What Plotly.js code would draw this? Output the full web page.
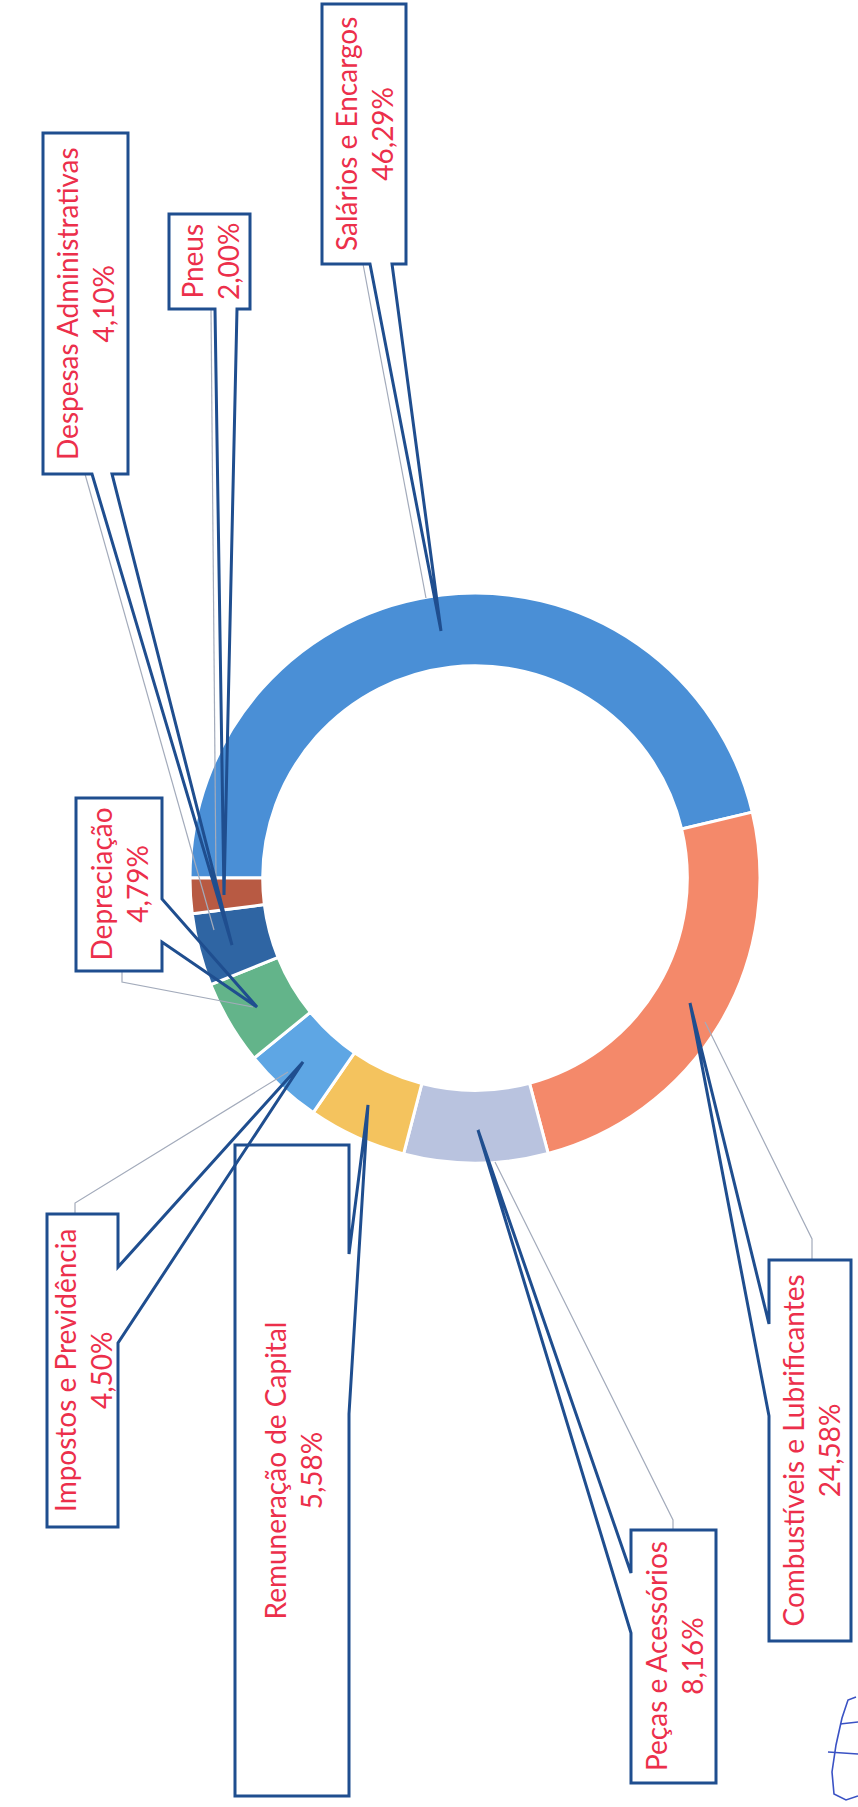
<!DOCTYPE html>
<html>
<head>
<meta charset="utf-8">
<script src="https://cdn.plot.ly/plotly-3.0.1.min.js"></script>
<style>html,body{margin:0;padding:0;background:#fff;}#chart{width:858px;height:1807px;}</style>
</head>
<body>
<div id="chart"></div>
<script>
// ---- data ----
var categories = ["Salários e Encargos", "Combustíveis e Lubrificantes", "Peças e Acessórios",
  "Remuneração de Capital", "Impostos e Previdência", "Depreciação",
  "Despesas Administrativas", "Pneus"];
var shares = [46.29, 24.58, 8.16, 5.58, 4.50, 4.79, 4.10, 2.00];
var sliceColors = ["#4a8fd6", "#f4896a", "#b9c3df", "#f4c35e", "#5ea6e4", "#63b48a", "#2f65a3", "#b85a43"];

// ---- layout of callouts (pixel positions of the page) ----
var W = 858, H = 1807;
function px(x) { return x / W; }
function py(y) { return 1 - y / H; }

var callouts = [
  {box: [322, 406, 4, 264],    tail: {edge: "bottom", a: 370, b: 392, tip: [441, 631]},  grey: [[363, 264], [426, 598]]},
  {box: [769, 851, 1260, 1641], tail: {edge: "left", a: 1324, b: 1416, tip: [690, 1003]}, grey: [[812, 1260], [812, 1239], [705, 1022]]},
  {box: [631, 716, 1530, 1783], tail: {edge: "left", a: 1573, b: 1633, tip: [478, 1130]}, grey: [[673, 1530], [673, 1520], [495, 1162]]},
  {box: [235, 349, 1145, 1796], tail: {edge: "right", a: 1254, b: 1414, tip: [368, 1105]}, grey: null},
  {box: [47, 118, 1214, 1527],  tail: {edge: "right", a: 1267, b: 1343, tip: [303, 1062]}, grey: [[75, 1214], [75, 1203], [288, 1072]]},
  {box: [76, 162, 798, 971],    tail: {edge: "right", a: 899, b: 942, tip: [257, 1007]},  grey: [[122, 971], [122, 982], [253, 1007]]},
  {box: [43, 128, 133, 474],    tail: {edge: "bottom", a: 92, b: 112, tip: [232, 945]},   grey: [[85, 474], [214, 930]]},
  {box: [169, 250, 214, 309],   tail: {edge: "bottom", a: 215, b: 237, tip: [224, 895]},  grey: [[211, 309], [216, 880]]}
];

function fmt(v) { return v.toFixed(2).replace(".", ",") + "%"; }

function calloutPath(c) {
  var x0 = c.box[0], x1 = c.box[1], y0 = c.box[2], y1 = c.box[3], t = c.tail;
  var pts = [[x0, y0], [x1, y0]];
  if (t.edge === "right") { pts.push([x1, t.a], t.tip, [x1, t.b]); }
  pts.push([x1, y1]);
  if (t.edge === "bottom") { pts.push([t.b, y1], t.tip, [t.a, y1]); }
  pts.push([x0, y1]);
  if (t.edge === "left") { pts.push([x0, t.b], t.tip, [x0, t.a]); }
  return "M" + pts.map(function (p) { return px(p[0]).toFixed(5) + "," + py(p[1]).toFixed(5); }).join(" L") + " Z";
}
function polyPath(pts) {
  return "M" + pts.map(function (p) { return px(p[0]).toFixed(5) + "," + py(p[1]).toFixed(5); }).join(" L");
}

var shapes = [], annotations = [];
callouts.forEach(function (c, i) {
  if (c.grey) {
    shapes.push({type: "path", xref: "paper", yref: "paper", layer: "above", path: polyPath(c.grey),
      line: {color: "#a3abbb", width: 1.2}});
  }
});
callouts.forEach(function (c, i) {
  shapes.push({type: "path", xref: "paper", yref: "paper", layer: "above", path: calloutPath(c),
    fillcolor: "rgba(255,255,255,0)", line: {color: "#1f4e8f", width: 3}});
  annotations.push({xref: "paper", yref: "paper",
    x: px((c.box[0] + c.box[1]) / 2), y: py((c.box[2] + c.box[3]) / 2),
    xanchor: "center", yanchor: "middle", showarrow: false, textangle: -90, align: "center",
    text: categories[i] + "<br>" + fmt(shares[i]),
    font: {family: "Lato, 'Noto Sans', sans-serif", size: 28, color: "#ec2f4b"}});
});

// pen mark at the bottom right corner of the scan
shapes.push({type: "path", xref: "paper", yref: "paper", layer: "above",
  path: polyPath([[856, 1697], [848, 1700], [842, 1718], [836, 1745], [832, 1772], [834, 1794], [846, 1800], [858, 1796]]),
  line: {color: "#3a52c4", width: 1.6, shape: "spline"}});
shapes.push({type: "path", xref: "paper", yref: "paper", layer: "above",
  path: polyPath([[840, 1724], [858, 1722]]), line: {color: "#3a52c4", width: 1.6}});
shapes.push({type: "path", xref: "paper", yref: "paper", layer: "above",
  path: polyPath([[828, 1752], [858, 1754]]), line: {color: "#3a52c4", width: 1.6}});

var trace = {
  type: "pie",
  labels: categories,
  values: shares,
  sort: false,
  direction: "clockwise",
  rotation: -90,
  hole: 0.745,
  textinfo: "none",
  hoverinfo: "label+percent",
  showlegend: false,
  marker: {colors: sliceColors, line: {color: "#ffffff", width: 3}},
  domain: {x: [190 / W, 760 / W], y: [1 - 1163 / H, 1 - 593 / H]}
};

var layout = {
  width: W, height: H,
  margin: {l: 0, r: 0, t: 0, b: 0},
  paper_bgcolor: "#ffffff",
  showlegend: false,
  shapes: shapes,
  annotations: annotations
};

Plotly.newPlot("chart", [trace], layout, {displayModeBar: false, staticPlot: true});
</script>
</body>
</html>
